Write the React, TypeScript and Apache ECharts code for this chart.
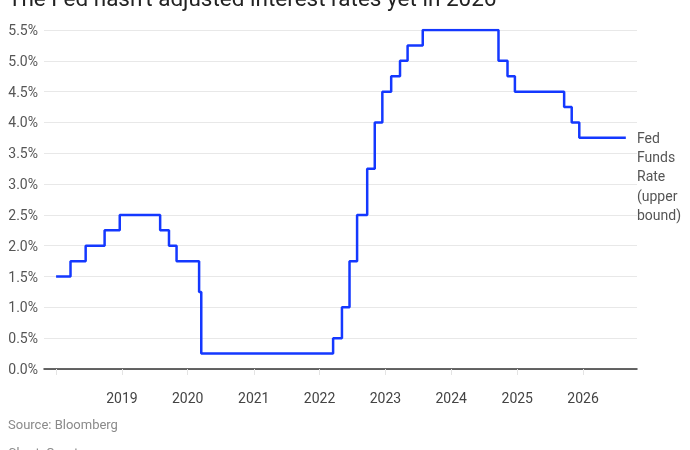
import { useEffect, useRef } from "react";
import * as echarts from "echarts";

const rateDates = [
  "2018-01-01", "2018-03-22", "2018-06-14", "2018-09-27", "2018-12-20",
  "2019-08-01", "2019-09-19", "2019-10-31", "2020-03-04", "2020-03-16",
  "2022-03-17", "2022-05-05", "2022-06-16", "2022-07-28", "2022-09-22",
  "2022-11-03", "2022-12-15", "2023-02-02", "2023-03-23", "2023-05-04",
  "2023-07-27", "2024-09-19", "2024-11-08", "2024-12-19", "2025-09-18",
  "2025-10-30", "2025-12-11", "2026-08-26",
];
const upperBound = [
  1.5, 1.75, 2, 2.25, 2.5,
  2.25, 2, 1.75, 1.25, 0.25,
  0.5, 1, 1.75, 2.5, 3.25,
  4, 4.5, 4.75, 5, 5.25,
  5.5, 5, 4.75, 4.5, 4.25,
  4, 3.75, 3.75,
];
const yearLabels = ["2019", "2020", "2021", "2022", "2023", "2024", "2025", "2026"];

const title = "The Fed hasn't adjusted interest rates yet in 2026";
const seriesLabel = "Fed\nFunds\nRate\n(upper\nbound)";
const source = "Source: Bloomberg";
const credit = "Chart: Quartz";

const FONT = "Roboto, 'Liberation Sans', sans-serif";
const YEAR = 365.25 * 24 * 3600 * 1000;

function FedRateChart() {
  const chartRef = useRef(null);

  useEffect(() => {
    const chart = echarts.init(chartRef.current, null, { renderer: "svg" });

    const option = {
      animation: false,
      textStyle: { fontFamily: FONT },
      grid: { left: 44, right: 53, top: 30, bottom: 81, containLabel: false },
      xAxis: {
        type: "time",
        min: "2017-10-26",
        max: "2026-10-27",
        minInterval: YEAR,
        maxInterval: YEAR,
        axisLine: { show: true, lineStyle: { color: "#333", width: 1.5 } },
        axisTick: { show: true, length: 6, lineStyle: { color: "#e4e4e4" } },
        splitLine: { show: false },
        axisLabel: {
          color: "#444",
          fontSize: 14,
          margin: 22,
          fontFamily: FONT,
          formatter: (v: number) => {
            const y = String(new Date(v).getFullYear());
            return yearLabels.includes(y) ? y : "";
          },
        },
      },
      yAxis: {
        type: "value",
        min: 0,
        max: 5.5,
        interval: 0.5,
        axisLine: { show: false },
        axisTick: { show: false },
        splitLine: { lineStyle: { color: "#e8e8e8", width: 1.2 } },
        axisLabel: {
          color: "#555",
          fontSize: 14,
          margin: 6,
          fontFamily: FONT,
          formatter: (v: number) => v.toFixed(1) + "%",
        },
      },
      series: [
        {
          name: "Fed Funds Rate (upper bound)",
          type: "line",
          step: "end",
          symbol: "none",
          lineStyle: { color: "#1438ff", width: 2.5 },
          data: rateDates.map((d, i) => [d, upperBound[i]]),
        },
      ],
      graphic: [
        {
          type: "text",
          left: 8,
          top: -14,
          style: { text: title, fontSize: 22.5, fill: "#222", fontFamily: FONT },
        },
        {
          type: "text",
          left: 637,
          top: 128,
          style: {
            text: seriesLabel,
            fontSize: 14,
            lineHeight: 19.3,
            fill: "#555",
            fontFamily: FONT,
          },
        },
        {
          type: "text",
          left: 8,
          top: 418,
          style: { text: source, fontSize: 13, fill: "#8a8a8a", fontFamily: FONT },
        },
        {
          type: "text",
          left: 8,
          top: 446,
          style: { text: credit, fontSize: 13, fill: "#8a8a8a", fontFamily: FONT },
        },
      ],
    };

    chart.setOption(option);

    return () => {
      chart.dispose();
    };
  }, []);

  return (
    <div
      ref={chartRef}
      style={{ position: "fixed", left: 0, top: 0, width: 690, height: 450 }}
    />
  );
}

export default function App() {
  return <FedRateChart />;
}
